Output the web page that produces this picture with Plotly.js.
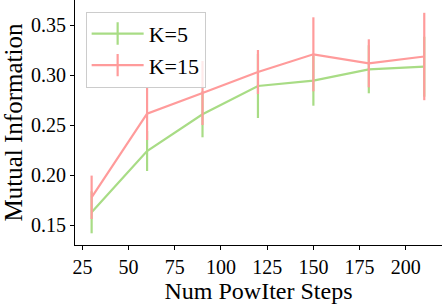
<!DOCTYPE html>
<html>
<head>
<meta charset="utf-8">
<script src="https://cdn.plot.ly/plotly-3.0.1.min.js"></script>
<style>html,body{margin:0;padding:0;background:#fff}#chart{width:442px;height:304px}</style>
</head>
<body>
<div id="chart"></div>
<script>
const steps = [30, 60, 90, 120, 150, 180, 210];
const k5Mean = [0.1627, 0.224, 0.2607, 0.289, 0.2943, 0.3057, 0.3083];
const k5Err  = [0.021, 0.020, 0.023, 0.032, 0.025, 0.024, 0.030];
const k15Mean = [0.1777, 0.2613, 0.282, 0.303, 0.3207, 0.3117, 0.3185];
const k15Err  = [0.0217, 0.0263, 0.032, 0.022, 0.037, 0.024, 0.0437];
const xTicks = [25, 50, 75, 100, 125, 150, 175, 200];
const yTicks = [0.15, 0.20, 0.25, 0.30, 0.35];
const seriesNames = ['K=5', 'K=15'];

const green = '#a8dc85';
const red = '#ff9b9b';
const FONT = 'Liberation Serif, serif';

const traces = [
  {x: steps, y: k5Mean, type: 'scatter', mode: 'lines', showlegend: false,
   line: {color: green, width: 2.2},
   error_y: {type: 'data', array: k5Err, visible: true, color: green, thickness: 2.2, width: 0}},
  {x: steps, y: k15Mean, type: 'scatter', mode: 'lines', showlegend: false,
   line: {color: red, width: 2.2},
   error_y: {type: 'data', array: k15Err, visible: true, color: red, thickness: 2.2, width: 0}},
  {x: [null], y: [null], type: 'scatter', mode: 'lines+markers', name: seriesNames[0],
   line: {color: green, width: 2.2},
   marker: {symbol: 'line-ns', size: 16, line: {color: green, width: 2.2}}},
  {x: [null], y: [null], type: 'scatter', mode: 'lines+markers', name: seriesNames[1],
   line: {color: red, width: 2.2},
   marker: {symbol: 'line-ns', size: 16, line: {color: red, width: 2.2}}}
];

const layout = {
  width: 442, height: 304,
  margin: {l: 75, r: 0, t: 0, b: 59, pad: 0},
  paper_bgcolor: '#fff', plot_bgcolor: '#fff',
  font: {family: FONT, size: 20, color: '#000'},
  showlegend: true,
  legend: {x: 0.029, y: 0.952, xanchor: 'left', yanchor: 'top',
           bgcolor: 'rgba(255,255,255,0.8)', bordercolor: '#cccccc', borderwidth: 1,
           font: {family: FONT, size: 22, color: '#000'},
           itemwidth: 52, tracegroupgap: 0},
  xaxis: {range: [21, 219.6], tickvals: xTicks, ticktext: xTicks.map(String),
          showline: true, linecolor: '#000', linewidth: 1, ticks: 'outside', ticklen: 4,
          tickcolor: '#000', showgrid: false, zeroline: false, mirror: false,
          tickfont: {family: FONT, size: 20},
          title: {text: 'Num PowIter Steps', font: {family: FONT, size: 24}, standoff: 3}},
  yaxis: {range: [0.13, 0.375], tickvals: yTicks, ticktext: yTicks.map(v => v.toFixed(2)),
          showline: true, linecolor: '#000', linewidth: 1, ticks: 'outside', ticklen: 4,
          tickcolor: '#000', showgrid: false, zeroline: false, mirror: false,
          tickfont: {family: FONT, size: 20},
          title: {text: 'Mutual Information', font: {family: FONT, size: 25}, standoff: 4}}
};

Plotly.newPlot('chart', traces, layout, {displayModeBar: false, staticPlot: true});
</script>
</body>
</html>
